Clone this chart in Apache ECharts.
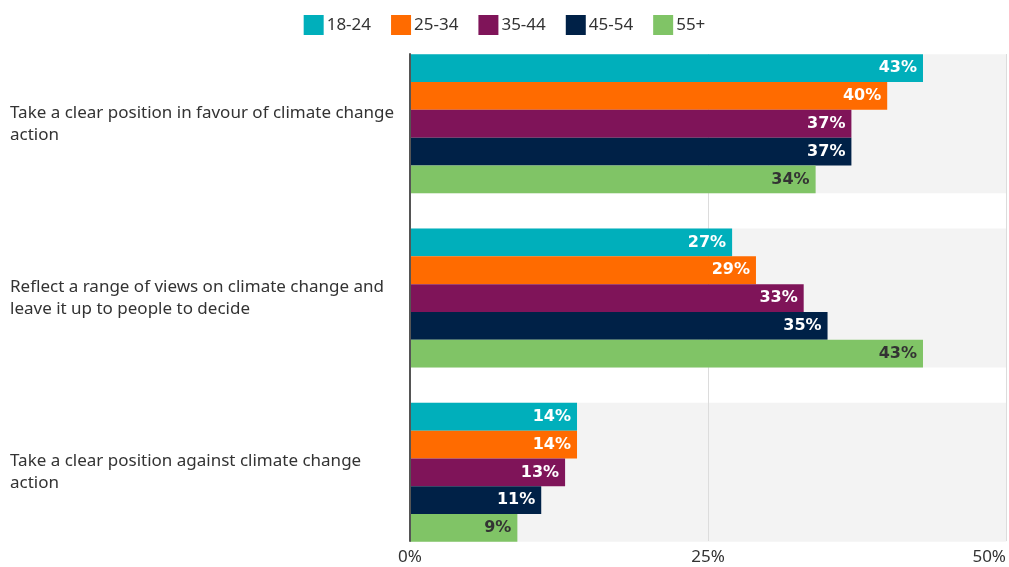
<!DOCTYPE html>
<html>
<head>
<meta charset="utf-8">
<script src="https://cdn.jsdelivr.net/npm/echarts@6/dist/echarts.min.js"></script>
<style>
html,body{margin:0;padding:0;background:#fff;}
#chart{width:1009px;height:567px;}
</style>
</head>
<body>
<div id="chart"></div>
<script>
const categories = [
  "Take a clear position in favour of climate change action",
  "Reflect a range of views on climate change and leave it up to people to decide",
  "Take a clear position against climate change action"
];
const seriesNames = ["18-24", "25-34", "35-44", "45-54", "55+"];
const age18_24 = [43, 27, 14];
const age25_34 = [40, 29, 14];
const age35_44 = [37, 33, 13];
const age45_54 = [37, 35, 11];
const age55plus = [34, 43, 9];
const xTicks = [0, 25, 50];

const seriesValues = [age18_24, age25_34, age35_44, age45_54, age55plus];
const colors = ["#00afbb", "#ff6b00", "#7f1459", "#002147", "#80c466"];
const labelColors = ["#ffffff", "#ffffff", "#ffffff", "#ffffff", "#333333"];
const FONT = "Noto Sans";
const LABEL_FONT = "DejaVu Sans";
const XMIN = xTicks[0], XMAX = xTicks[xTicks.length - 1], XINT = xTicks[1] - xTicks[0];

const L = 410, R = 2.5;
const chart = echarts.init(document.getElementById('chart'), null, {renderer: 'canvas'});

const barSeries = seriesValues.map((vals, i) => ({
  name: seriesNames[i],
  type: 'bar',
  xAxisIndex: 1,
  yAxisIndex: 1,
  z: 3,
  data: vals,
  barGap: '0%',
  barCategoryGap: '20.25%',
  itemStyle: {color: colors[i]},
  label: {
    show: true,
    position: 'insideRight',
    distance: 6,
    formatter: p => p.value + '%',
    color: labelColors[i],
    fontFamily: LABEL_FONT,
    fontWeight: 'bold',
    fontSize: 16
  }
}));

const bgSeries = {
  type: 'bar',
  xAxisIndex: 2,
  yAxisIndex: 2,
  z: 0,
  silent: true,
  data: categories.map(() => XMAX),
  barCategoryGap: '20.25%',
  itemStyle: {color: '#f3f3f3'},
  label: {show: false}
};

chart.setOption({
  animation: false,
  textStyle: {fontFamily: FONT},
  legend: {
    top: 10,
    left: 'center',
    data: seriesNames,
    itemWidth: 20,
    itemHeight: 20,
    itemGap: 20,
    icon: 'rect',
    textStyle: {fontFamily: FONT, fontSize: 17, color: '#333', padding: [0, 0, 0, -2]}
  },
  grid: [
    {left: L, right: R, top: 54, height: 487, containLabel: false},
    {left: L, right: R, top: 36.6, height: 522.9, containLabel: false},
    {left: L, right: R, top: 36.6, height: 522.9, containLabel: false}
  ],
  xAxis: [
    {
      gridIndex: 0, type: 'value', min: XMIN, max: XMAX, interval: XINT, z: 1,
      axisLine: {show: false}, axisTick: {show: false},
      splitLine: {show: true, lineStyle: {color: '#dcdcdc', width: 1}},
      axisLabel: {
        formatter: '{value}%', color: '#333', fontFamily: FONT, fontSize: 17, margin: 8,
        alignMaxLabel: 'right'
      }
    },
    {gridIndex: 1, type: 'value', min: XMIN, max: XMAX, show: false},
    {gridIndex: 2, type: 'value', min: XMIN, max: XMAX, show: false}
  ],
  yAxis: [
    {
      gridIndex: 0, type: 'value', min: 0, max: 1, z: 4,
      axisLine: {show: true, lineStyle: {color: '#555', width: 2}},
      axisTick: {show: false}, axisLabel: {show: false}, splitLine: {show: false}
    },
    {
      gridIndex: 1, type: 'category', inverse: true, data: categories,
      axisLine: {show: false}, axisTick: {show: false}, splitLine: {show: false},
      axisLabel: {
        align: 'left', margin: 400, width: 394, overflow: 'break',
        color: '#333', fontFamily: FONT, fontSize: 17, lineHeight: 22
      }
    },
    {gridIndex: 2, type: 'category', inverse: true, data: categories, show: false}
  ],
  series: [bgSeries].concat(barSeries)
});
</script>
</body>
</html>
